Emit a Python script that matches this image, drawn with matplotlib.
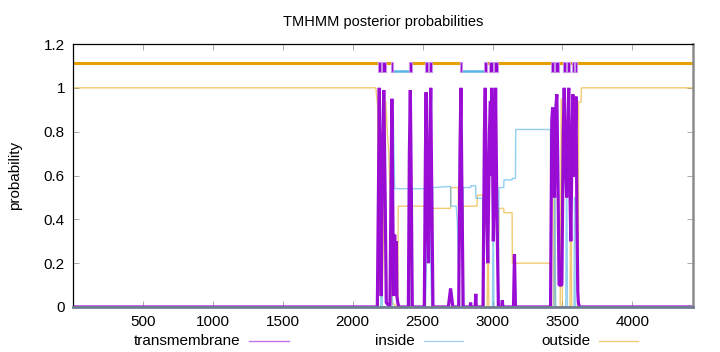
import numpy as np
import matplotlib
matplotlib.use('Agg')
import matplotlib.pyplot as plt
from matplotlib.lines import Line2D
from matplotlib.patches import Rectangle

plt.rcParams['font.family'] = ['Liberation Sans', 'DejaVu Sans']

seq_len = 4432

# predicted topology (top bar)
tm_regions = [(2181, 2200), (2212, 2236), (2271, 2291), (2402, 2421),
              (2516, 2538), (2548, 2569), (2764, 2784), (2938, 2962),
              (2974, 3002), (3009, 3038), (3421, 3443), (3450, 3474),
              (3502, 3526), (3534, 3557), (3566, 3585), (3590, 3605)]
inside_regions = [(2200, 2212), (2291, 2402), (2538, 2548), (2784, 2938),
                  (3002, 3009), (3443, 3450), (3526, 3534), (3585, 3590)]
outside_regions = [(1, 2181), (2236, 2271), (2421, 2516), (2569, 2764),
                   (2962, 2974), (3038, 3421), (3474, 3502), (3557, 3566),
                   (3605, seq_len)]

# posterior probabilities
tm_pos = [1, 2176, 2185, 2190, 2196, 2204, 2210, 2222, 2232, 2240, 2266, 2275,
          2280, 2286, 2292, 2300, 2306, 2312, 2316, 2322, 2330, 2398, 2405, 2412,
          2418, 2426, 2512, 2520, 2525, 2532, 2542, 2552, 2558, 2564, 2574, 2684,
          2700, 2716, 2758, 2767, 2774, 2780, 2790, 2840, 2843, 2846, 2876, 2880,
          2884, 2932, 2942, 2948, 2956, 2966, 2978, 2985, 2990, 2995, 3000, 3006,
          3014, 3022, 3030, 3042, 3066, 3070, 3074, 3150, 3157, 3164, 3415, 3424,
          3430, 3436, 3444, 3452, 3460, 3468, 3476, 3496, 3506, 3513, 3520, 3530,
          3538, 3545, 3552, 3560, 3570, 3575, 3582, 3588, 3597, 3604, 3610, 3614,
          3622, seq_len]
tm_prob = [0, 0, 0.6, 1.0, 0.5, 0.05, 0.6, 0.99, 0.5, 0.02, 0.0, 0.6,
           0.95, 0.5, 0.05, 0.33, 0.1, 0.3, 0.05, 0.02, 0.0, 0.0, 0.7, 0.99,
           0.6, 0.0, 0.0, 0.7, 0.98, 0.5, 0.2, 0.8, 1.0, 0.6, 0.0, 0.0,
           0.085, 0.0, 0.0, 0.7, 1.0, 0.6, 0.0, 0.0, 0.02, 0.0, 0.0, 0.06,
           0.0, 0.0, 0.8, 1.0, 0.5, 0.2, 0.8, 0.94, 0.6, 1.0, 0.7, 0.3,
           0.6, 1.0, 0.5, 0.0, 0.0, 0.03, 0.0, 0.0, 0.24, 0.0, 0.0, 0.85,
           0.91, 0.6, 0.5, 0.9, 0.97, 0.6, 0.1, 0.1, 0.8, 1.0, 0.7, 0.5,
           0.8, 1.0, 0.6, 0.3, 0.8, 0.97, 0.6, 0.6, 0.96, 0.4, 0.07, 0.02,
           0.0, 0.0]

inside_pos = [1, 2200, 2206, 2212, 2284, 2290, 2300, 2400, 2406, 2418, 2424,
              2514, 2520, 2543, 2565, 2572, 2700, 2702, 2740, 2748, 2764, 2784,
              2790, 2843, 2845, 2879, 2881, 2930, 2938, 3000, 3005, 3010, 3040,
              3046, 3080, 3082, 3140, 3142, 3164, 3166, 3414, 3421, 3440, 3446,
              3452, 3524, 3530, 3536, 3583, 3587, 3592, 3605, seq_len]
inside_prob = [0, 0, 0.3, 0, 0, 0.88, 0.54, 0.54, 0, 0, 0.54,
               0.54, 0, 0.6, 0, 0.545, 0.55, 0.46, 0.46, 0.39, 0, 0,
               0.545, 0.545, 0.553, 0.553, 0.496, 0.496, 0, 0, 0.5, 0, 0,
               0.545, 0.545, 0.58, 0.58, 0.587, 0.587, 0.81, 0.81, 0, 0, 0.6,
               0, 0, 0.7, 0, 0, 0.5, 0, 0, 0]

outside_pos = [1, 2165, 2178, 2186, 2200, 2212, 2236, 2248, 2258, 2270, 2280,
               2322, 2326, 2400, 2406, 2418, 2424, 2514, 2520, 2565, 2572, 2700,
               2702, 2755, 2764, 2784, 2790, 2888, 2892, 2930, 2938, 2962, 2968,
               2974, 3038, 3046, 3080, 3082, 3140, 3142, 3414, 3421, 3436, 3442,
               3448, 3484, 3492, 3500, 3554, 3561, 3566, 3605, 3614, 3616, 3633,
               3636, seq_len]
outside_prob = [1.0, 1.0, 0.92, 0.1, 0.05, 0.05, 0.94, 0.79, 0.7, 0.45, 0.02,
                0.0, 0.46, 0.46, 0.0, 0.0, 0.46, 0.46, 0.0, 0.0, 0.45, 0.45,
                0.545, 0.545, 0.0, 0.0, 0.46, 0.46, 0.51, 0.51, 0.0, 0.0, 0.4,
                0.0, 0.0, 0.45, 0.45, 0.43, 0.43, 0.2, 0.2, 0.0, 0.0, 0.78,
                0.0, 0.0, 0.95, 0.0, 0.0, 0.8, 0.0, 0.0, 0.05, 0.935, 0.935,
                1.0, 1.0]

c_tm = '#9400D3'
c_in = '#56B4E9'
c_out = '#E69F00'

fig = plt.figure(figsize=(7.2, 3.52), dpi=100)
ax = fig.add_axes([73.3 / 720, 1 - 307 / 352, (692.7 - 73.3) / 720, (307 - 44) / 352])

ax.plot(outside_pos, outside_prob, color=c_out, lw=1.0, alpha=0.55)
ax.plot(inside_pos, inside_prob, color=c_in, lw=1.0, alpha=0.65)
ax.plot(tm_pos, tm_prob, color=c_tm, lw=2.3, alpha=0.95, solid_joinstyle='bevel')

# topology bar
for s, e in outside_regions:
    ax.plot([s, e], [1.113, 1.113], color=c_out, lw=2.2, solid_capstyle='butt')
for s, e in inside_regions:
    ax.plot([s, e], [1.075, 1.075], color=c_in, lw=1.8, solid_capstyle='butt')
for s, e in tm_regions:
    ax.add_patch(Rectangle((s, 1.07), e - s, 0.05, facecolor=c_tm,
                           edgecolor='#c890e8', lw=0.8, zorder=3))

ax.set_xlim(1, seq_len)
ax.set_ylim(0, 1.2)
ax.set_xticks([500, 1000, 1500, 2000, 2500, 3000, 3500, 4000])
ax.set_yticks([0, 0.2, 0.4, 0.6, 0.8, 1.0, 1.2])
ax.set_yticklabels(['0', '0.2', '0.4', '0.6', '0.8', '1', '1.2'])
ax.tick_params(direction='in', top=True, right=True, length=4, width=0.5,
               color='#888888', labelsize=11, pad=6)
for side in ['left', 'top']:
    ax.spines[side].set_linewidth(0.9)
    ax.spines[side].set_color('black')
ax.spines['bottom'].set_color('#708090')
ax.spines['bottom'].set_linewidth(2)
ax.spines['right'].set_color('#8a8a8a')
ax.spines['right'].set_linewidth(1.8)

ax.set_title('TMHMM posterior probabilities', fontsize=10.5, pad=13)
ax.set_ylabel('probability', fontsize=11, labelpad=16)

# legend row under the axis
leg = [('transmembrane', 240, 249, 288.5, c_tm),
       ('inside', 414.5, 423.7, 463, c_in),
       ('outside', 590, 599, 638, c_out)]
yl = 1 - 341 / 352
for name, xt, x0, x1, col in leg:
    fig.text(xt / 720, yl, name, ha='right', va='center', fontsize=11)
    fig.add_artist(Line2D([x0 / 720, x1 / 720], [yl, yl], color=col, lw=1.0,
                          alpha=0.55, transform=fig.transFigure))

fig.savefig('out.png', dpi=100)
